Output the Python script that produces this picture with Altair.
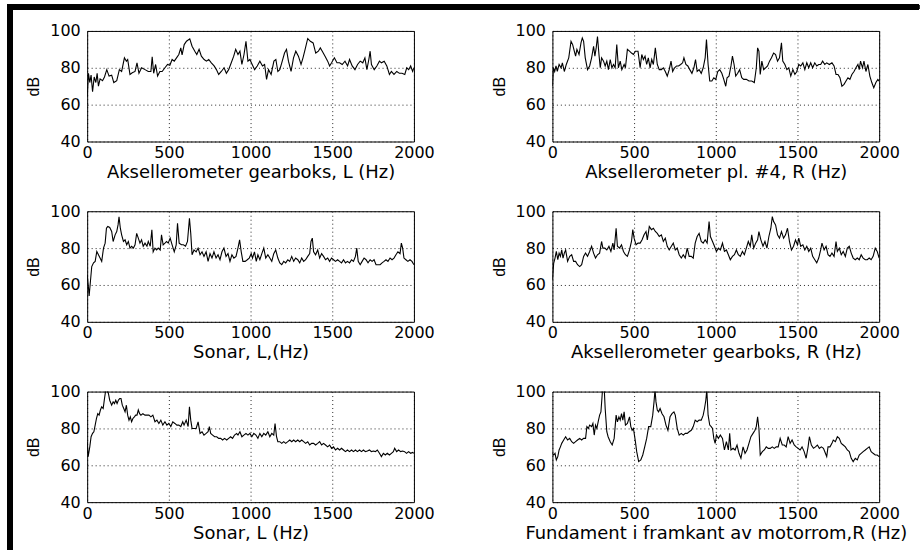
import altair as alt
import pandas as pd

TITLES = [
    "Aksellerometer gearboks, L (Hz)",
    "Aksellerometer pl. #4, R (Hz)",
    "Sonar, L,(Hz)",
    "Aksellerometer gearboks, R (Hz)",
    "Sonar, L (Hz)",
    "Fundament i framkant av motorrom,R (Hz)",
]
X_TICKS = [0, 500, 1000, 1500, 2000]
Y_TICKS = [40, 60, 80, 100]

# (Hz, dB)
P1 = [(0,64),(8,77),(16,72),(24,76),(33,67),(43,75),(53,72),(61,77),(69,70),(79,74),(94,73),(106,75),(120,79),(134,75.5),(150,76),(163,72),(181,73),(197,79),(211,78),(228,85.4),(240,83.6),(248,84.5),(262,76.4),(276,77.3),(293,78),(305,82.7),(317,77),(333,80),(354,79),(374,78),(390,78),(398,86),(407,77),(419,81.8),(431,75.5),(445,78),(459,78),(476,80),(492,81.8),(506,81.4),(520,84.5),(533,83.6),(547,85.4),(561,87.2),(573,90.8),(581,87),(594,92.6),(608,94.4),(628,95.7),(642,91.7),(659,89),(671,87.2),(685,90),(699,86.3),(716,84.5),(730,83.6),(744,84.5),(760,82.7),(777,81),(791,79),(805,76.4),(821,78),(838,80),(852,77),(866,79),(882,82.7),(897,86.3),(909,90),(923,87.2),(935,89),(947,81.8),(960,87.2),(972,94.4),(984,83.6),(996,84.5),(1010,81.8),(1025,79),(1041,81),(1057,83.6),(1073,81),(1086,81.8),(1098,73.7),(1110,79),(1126,76.4),(1143,83.6),(1155,84.5),(1167,78),(1179,79),(1191,82.7),(1208,88),(1220,90),(1232,83.6),(1248,78),(1263,85.4),(1277,89),(1293,86.3),(1309,81.8),(1321,85.4),(1334,90),(1350,95.9),(1366,94.4),(1383,93.5),(1399,88),(1415,89),(1427,90.8),(1439,89),(1456,86.3),(1472,83.6),(1484,81),(1496,82.7),(1513,85.4),(1529,82.7),(1545,82.7),(1561,81.8),(1578,83.6),(1594,81),(1606,84.5),(1622,81),(1639,79),(1655,81.8),(1671,83.6),(1687,82.7),(1700,85.4),(1712,79),(1724,84.5),(1732,89),(1740,81.8),(1757,79),(1773,81),(1789,83.6),(1801,82.7),(1818,83.6),(1834,81),(1850,76.4),(1862,78),(1878,76.4),(1895,78),(1911,77),(1927,77),(1944,76.4),(1956,80),(1968,79),(1980,81),(1992,78),(2000,80)]

P2 = [(0,70),(6,80),(14,78),(22,81),(30,78),(41,81.8),(53,80),(61,82.7),(73,78),(85,81.8),(100,85.4),(114,94.4),(124,92.6),(134,89),(142,86.3),(150,90),(163,87.2),(175,93.5),(183,96.2),(191,94.4),(201,85.4),(215,79),(228,81),(240,85.4),(252,91.7),(260,86.3),(268,90.8),(276,97),(285,87.2),(293,80),(301,85.4),(313,83.6),(323,81),(333,83.6),(343,79),(354,84.5),(364,80),(374,81.8),(384,80),(394,92.6),(404,80),(415,83.6),(425,79),(439,81.8),(447,80),(459,90),(472,89),(484,88),(496,87.2),(508,89),(524,89),(537,80),(547,87.2),(557,84.5),(567,86.3),(577,81.8),(587,85.4),(598,80),(608,84.5),(618,81.8),(630,90.8),(642,81.8),(654,79),(667,79),(679,80),(691,78),(703,75.5),(715,79),(726,83.6),(736,78),(748,80),(760,81),(772,81),(785,81.8),(797,82.7),(805,85.4),(817,81.8),(829,81),(841,79),(854,77),(866,80),(876,84.5),(886,78),(898,79),(911,77),(923,80),(935,85.4),(943,95.3),(953,81.8),(963,72.8),(976,72.8),(988,74.6),(1000,73.7),(1012,78),(1024,79),(1037,77),(1049,73.7),(1061,70),(1069,74.6),(1081,75.5),(1093,81),(1102,86.3),(1112,81.8),(1122,75.5),(1134,77),(1146,79),(1159,74.6),(1171,73.7),(1187,73.7),(1203,72.8),(1220,72.8),(1236,72),(1248,80),(1256,90.8),(1264,89),(1272,76.4),(1282,83.6),(1293,79),(1305,80),(1317,81),(1329,83.6),(1341,85.4),(1354,88),(1366,87.2),(1378,83.6),(1390,85.4),(1402,93.5),(1410,83.6),(1423,81.8),(1435,79),(1447,80),(1459,75.5),(1472,79),(1484,76.4),(1496,78),(1508,81.8),(1520,81),(1533,82.7),(1545,79),(1557,82.7),(1569,80),(1581,82.7),(1593,80),(1606,82.7),(1618,81),(1630,81.8),(1642,81.8),(1654,83.6),(1667,81.8),(1679,82.7),(1695,81.8),(1711,82.7),(1724,81),(1736,76.4),(1748,76.4),(1760,74.6),(1772,70),(1785,71),(1797,72.8),(1809,74.6),(1821,73.7),(1833,76.4),(1846,78),(1858,80),(1870,81.8),(1878,79),(1886,83.6),(1898,80),(1907,83.6),(1919,78),(1931,81.8),(1943,75.5),(1955,72),(1967,69.2),(1980,72),(1992,73.7),(2000,72.8)]

P3 = [(0,65.6),(8,58.4),(12,54),(20,62),(28,70),(39,72),(49,72.8),(59,78.2),(69,76.4),(79,74.6),(89,72.8),(100,80),(110,82.7),(118,90.8),(126,91.7),(138,91.2),(150,89),(159,83.6),(171,87.2),(181,89),(189,92.6),(195,97),(203,90.8),(211,87.2),(222,83.6),(232,84.5),(242,81.8),(252,83.6),(262,80),(272,81),(283,80),(293,81.8),(303,88),(313,85.4),(323,82.7),(333,84.5),(343,81),(354,82.7),(366,81),(374,83.6),(386,81),(396,90),(404,78),(415,80),(425,79),(435,80),(447,79),(455,87.2),(465,81.8),(476,82.7),(486,83.6),(496,82.7),(508,85.4),(520,81.8),(533,78),(545,81.8),(553,93.5),(563,82.7),(577,81.8),(589,81.8),(602,81),(614,83.6),(626,96.2),(634,88),(642,76.4),(654,79),(667,78),(679,80),(691,76.4),(703,78),(715,75.5),(728,78),(740,72.8),(752,77),(764,74.6),(776,78),(789,74.6),(801,76.4),(813,73.7),(825,78),(837,80),(850,75.5),(862,77),(874,72.8),(886,76.4),(898,74.6),(911,75.5),(923,80),(933,84.5),(943,78),(953,72.8),(967,72.8),(980,73.7),(992,74.6),(1004,77),(1012,74.6),(1024,78),(1035,72.8),(1045,76.4),(1057,73.7),(1069,77),(1081,80),(1093,74.6),(1106,76.4),(1118,74.6),(1130,72.8),(1142,77),(1154,79),(1167,74.6),(1179,72),(1191,71),(1203,72.8),(1215,72),(1228,73.7),(1240,72.8),(1252,75.5),(1264,72.8),(1276,74.6),(1289,73.7),(1301,72),(1313,74.6),(1325,72.8),(1337,73.7),(1350,75.5),(1362,77),(1370,83.6),(1378,85.4),(1386,78),(1398,76.4),(1411,79),(1423,74.6),(1435,77),(1447,75.5),(1459,73.7),(1472,74.6),(1484,72.8),(1496,74.6),(1508,73.7),(1520,72.8),(1533,73.7),(1545,72.8),(1557,72),(1569,73.7),(1581,72),(1593,72.8),(1606,72),(1618,73.7),(1630,72.8),(1642,75.5),(1650,80),(1659,72.8),(1671,71),(1683,72.8),(1695,74.6),(1707,73.7),(1719,72),(1732,73.7),(1744,72.8),(1756,73.7),(1768,71),(1780,71),(1793,71),(1805,72),(1817,72.8),(1829,73.7),(1841,72.8),(1854,74.6),(1866,73.7),(1878,74.6),(1890,76.4),(1902,78),(1915,77),(1923,82.7),(1931,80),(1939,74.6),(1951,73.7),(1963,72.8),(1976,73.7),(1988,72.8),(2000,71)]

P4 = [(0,62.9),(8,71.9),(16,74.6),(24,78.2),(33,73.7),(41,77.3),(49,75.5),(57,79),(65,74.6),(73,77.3),(81,79),(93,72.8),(106,75.5),(118,76.4),(130,72.8),(142,72.8),(154,71),(167,70),(179,71),(191,75.5),(203,77.3),(215,75.5),(228,78.2),(240,81),(252,77.3),(264,74.6),(276,76.4),(289,77.3),(301,83.6),(309,80),(321,80),(333,79),(346,81),(358,78.2),(370,82.7),(378,79),(390,90.8),(398,81),(411,80),(423,81.8),(435,78.2),(447,76.4),(459,75.5),(472,79),(484,83.6),(492,90),(500,85.4),(512,81.8),(524,82.7),(537,82.7),(549,84.5),(561,87.2),(573,89),(581,84.5),(593,91.7),(606,90),(618,90.8),(630,89),(642,88),(654,86.3),(667,87.2),(679,83.6),(691,85.4),(703,81),(715,79),(728,81),(740,82.7),(752,79),(764,80),(776,76.4),(789,74.6),(801,76.4),(813,74.6),(825,80),(837,75.5),(850,75.5),(862,74.6),(874,82.7),(886,86.3),(898,88),(911,83.6),(923,82.7),(935,84.5),(947,82.7),(959,94.4),(967,86.3),(980,83.6),(992,81),(1004,78.2),(1016,80),(1028,79),(1041,82.7),(1053,78.2),(1065,79),(1077,76.4),(1089,73.7),(1102,75.5),(1114,76.4),(1126,79),(1138,76.4),(1150,75.5),(1163,78.2),(1175,76.4),(1187,80),(1199,83.6),(1211,81),(1220,87.2),(1232,80),(1244,82.7),(1256,84.5),(1264,89),(1276,84.5),(1289,81),(1301,83.6),(1313,80),(1325,86.3),(1337,90.8),(1346,97.1),(1354,94.4),(1366,92.6),(1378,87.2),(1390,85.4),(1402,89),(1415,85.4),(1427,87.2),(1439,90.8),(1451,83.6),(1463,79),(1476,81),(1488,84.5),(1500,81.8),(1508,85.4),(1520,81),(1533,81.8),(1545,79),(1557,81),(1569,78.2),(1581,80),(1593,75.5),(1606,73.7),(1618,72),(1630,74.6),(1642,79),(1650,82.7),(1663,79),(1675,81),(1687,76.4),(1699,75.5),(1711,77.3),(1724,75.5),(1736,83.6),(1744,78.2),(1756,80),(1768,76.4),(1780,78.2),(1793,75.5),(1805,80),(1817,81),(1829,77.3),(1841,74.6),(1854,73.7),(1866,74.6),(1878,73.7),(1890,76.4),(1902,74.6),(1915,73.7),(1927,73.7),(1939,74.6),(1951,73.7),(1963,75.5),(1976,80),(1988,78.2),(2000,74.6)]

P5 = [(0,72.8),(6,64.7),(16,70),(24,75.5),(33,77.3),(41,78.2),(49,81.8),(57,85.4),(65,88),(73,87.2),(81,90),(89,91.7),(98,90.8),(106,96.2),(114,101),(122,100.5),(130,99),(138,95.3),(150,92.6),(159,94.4),(167,93.5),(175,95.3),(183,93.5),(191,95.3),(199,96.2),(207,96.2),(215,92.6),(224,90.8),(232,89),(240,92.6),(248,87.2),(256,84.5),(264,86.3),(272,83.6),(280,85.4),(289,86.3),(297,87.2),(305,87.2),(313,90),(321,88),(329,87.2),(341,88),(354,87.2),(366,87.2),(378,87.2),(390,86.3),(402,87.2),(415,83.6),(427,84.5),(439,82.7),(451,84.5),(463,81.8),(476,83.6),(488,81.8),(500,82.7),(512,81),(524,83.6),(537,82.7),(549,81.8),(561,81.8),(573,81),(585,83.6),(593,81.8),(606,84.5),(618,81),(626,91.7),(634,84.5),(642,80),(654,80),(667,80),(679,83.6),(691,77.3),(703,78.2),(715,76.4),(728,77.3),(740,78.2),(748,81),(756,77.3),(768,76.4),(780,75.5),(793,75.5),(805,74.6),(817,74.6),(829,73.7),(841,74.6),(854,73.7),(866,74.6),(878,75.5),(890,74.6),(902,76.4),(915,77.3),(923,76.4),(935,78.2),(947,75.5),(959,76.4),(972,77.3),(984,76.4),(996,77.3),(1008,75.5),(1020,77.3),(1033,76.4),(1045,74.6),(1057,77.3),(1069,75.5),(1081,77.3),(1093,76.4),(1106,78.2),(1118,75.5),(1130,77.3),(1142,76.4),(1150,82.7),(1159,75.5),(1167,72.8),(1179,72.8),(1191,71.9),(1203,72.8),(1215,71.9),(1228,72.8),(1240,73.7),(1252,72.8),(1264,73.7),(1276,72.8),(1289,73.7),(1301,72.8),(1313,73.7),(1325,72.8),(1337,71.9),(1350,72.8),(1362,71),(1374,71.9),(1386,71.9),(1398,71),(1411,71.9),(1423,72.8),(1435,71),(1447,71.9),(1459,71),(1472,70),(1484,71),(1496,69.2),(1508,70),(1520,68.3),(1533,69.2),(1545,68.3),(1557,69.2),(1569,68.3),(1581,67.4),(1593,68.3),(1606,67.4),(1618,68.3),(1630,67.4),(1642,68.3),(1654,67.4),(1667,68.3),(1679,67.4),(1691,68.3),(1703,67.4),(1715,67.7),(1728,68.3),(1740,67.4),(1752,67.7),(1764,67.4),(1776,68.3),(1789,66.5),(1801,64.7),(1813,66.5),(1825,65.6),(1837,66.5),(1850,65.6),(1862,66.5),(1874,67.4),(1882,69.2),(1894,67.4),(1906,68.3),(1919,67.4),(1931,67.7),(1943,67.4),(1955,66.5),(1967,67.4),(1980,66.5),(1992,67),(2000,66.5)]

P6 = [(0,66.5),(8,65.6),(16,66.5),(24,62.9),(33,64.7),(41,68.3),(49,70),(57,71.9),(69,73.7),(81,75.5),(93,73.7),(106,74.6),(118,72.8),(130,71.9),(142,72.8),(154,73.7),(167,74.6),(179,73.7),(191,74.6),(203,74.6),(211,81),(220,80),(228,81.8),(240,81),(248,82.7),(256,76.4),(264,81.8),(272,80),(280,83.6),(289,87.2),(297,89),(303,96.2),(309,104),(317,102),(323,90.8),(333,78.2),(341,75.5),(354,72.8),(366,71),(378,74.6),(390,87.2),(398,83.6),(407,86.3),(415,84.5),(423,88),(431,84.5),(439,89),(447,81.8),(459,82.7),(472,86.3),(480,81),(488,79),(496,80),(508,72.8),(516,67.4),(528,62),(541,62.9),(553,65.6),(565,70),(577,74.6),(589,81),(602,81),(614,87.2),(622,94.4),(628,101),(634,94.4),(642,90),(650,89),(659,90.8),(671,88),(683,86.3),(695,81.8),(707,79),(720,86.3),(732,88),(744,89),(752,87.2),(764,80),(776,76.4),(789,77.3),(801,76.4),(813,77.3),(825,77.3),(837,78.2),(850,79),(862,81),(874,84.5),(886,83.6),(898,84.5),(911,84.5),(923,87.2),(931,90.8),(939,95.3),(945,101),(953,87.2),(963,81.8),(972,81),(980,80),(988,74.6),(996,71.9),(1004,76.4),(1016,74.6),(1028,76.4),(1041,74.6),(1053,68.3),(1065,72.8),(1077,68.3),(1085,77.3),(1093,68.3),(1106,69.2),(1118,68.3),(1130,71),(1142,66.5),(1154,63.8),(1167,70),(1179,66.5),(1191,68.3),(1203,71.9),(1215,75.5),(1228,77.3),(1240,79),(1248,81),(1256,86.3),(1264,80),(1272,65.6),(1285,67.4),(1297,68.3),(1309,70),(1321,69.2),(1333,69.2),(1346,70),(1358,69.2),(1370,70),(1382,70),(1394,74.6),(1407,71),(1419,71),(1431,70),(1443,75.5),(1455,71.9),(1467,73.7),(1480,71),(1492,70),(1504,69.2),(1516,68.3),(1528,70),(1541,67.4),(1553,63.8),(1565,70),(1573,75.5),(1585,71),(1598,69.2),(1610,70),(1622,71),(1634,69.2),(1646,70),(1659,69.2),(1671,66.5),(1679,64.7),(1687,70),(1699,70),(1711,71.9),(1719,73.7),(1732,72.8),(1744,75.5),(1756,74.6),(1768,71.9),(1780,71),(1793,70),(1805,68.3),(1817,67.4),(1829,63.8),(1841,62),(1854,63.8),(1866,62.9),(1878,65.6),(1890,66.5),(1902,67.4),(1915,68.3),(1927,69.2),(1939,70),(1951,67.4),(1963,66.5),(1976,65.6),(1988,65.6),(2000,64.7)]

SERIES = [P1, P2, P3, P4, P5, P6]

W, H = 328, 111


def panel(title, pts, with_frame=False):
    df = pd.DataFrame(pts, columns=["hz", "db"])
    line = alt.Chart(df).mark_line(color="black", strokeWidth=1.1, clip=True).encode(
        x=alt.X("hz:Q",
                scale=alt.Scale(domain=[0, 2000], nice=False, zero=False),
                axis=alt.Axis(values=X_TICKS, title=title, format="d")),
        y=alt.Y("db:Q",
                scale=alt.Scale(domain=[40, 100], nice=False, zero=False),
                axis=alt.Axis(values=Y_TICKS, title="dB", format="d")),
    )
    if with_frame:
        left = alt.Chart(df).mark_rule(color="black", strokeWidth=5).encode(
            x=alt.value(-77.5), y=alt.value(-26.5), y2=alt.value(521))
        top = alt.Chart(df).mark_rule(color="black", strokeWidth=5).encode(
            x=alt.value(-80), x2=alt.value(835), y=alt.value(-24))
        return alt.layer(line, left, top).properties(width=W, height=H)
    return line.properties(width=W, height=H)


charts = [panel(t, s, with_frame=(i == 0)) for i, (t, s) in enumerate(zip(TITLES, SERIES))]

chart = alt.concat(
    *charts, columns=2, spacing={"row": 70, "column": 139}, bounds="flush"
).properties(
    padding={"left": 4.5, "top": 0, "right": 0, "bottom": 0},
    background="white",
).configure_view(
    stroke="black", strokeWidth=1
).configure_axis(
    grid=True, gridColor="black", gridDash=[1, 3], gridWidth=1, gridOpacity=0.85,
    domain=False, ticks=False, labelFlush=False,
    labelFont="DejaVu Sans", labelFontSize=16, labelColor="black",
    titleFont="DejaVu Sans", titleFontSize=18, titleFontWeight="normal", titleColor="black",
).configure_axisX(
    labelPadding=3, titlePadding=3
).configure_axisY(
    labelPadding=7, titlePadding=8, titleFont="Liberation Sans", titleFontSize=16
)

chart.save("out.html", embed_options={"renderer": "svg", "actions": False})
